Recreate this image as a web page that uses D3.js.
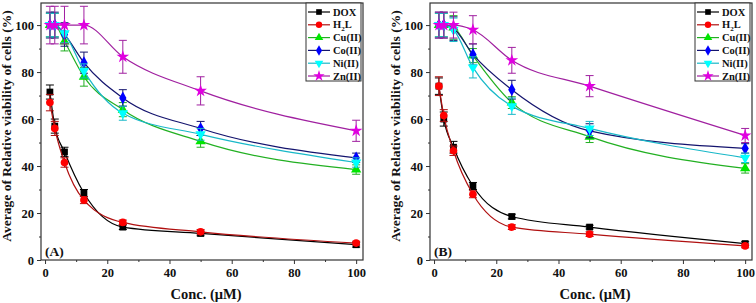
<!DOCTYPE html>
<html>
<head>
<meta charset="utf-8">
<script src="https://cdn.jsdelivr.net/npm/d3@7"></script>
<style>
  body { margin: 0; background: #fff; }
  svg text { font-family: "Liberation Serif", "Times New Roman", serif; font-weight: bold; }
</style>
</head>
<body>
<svg id="chart" width="756" height="303"></svg>
<script>
"use strict";

var conc = [1.5625, 3.125, 6.25, 12.5, 25, 50, 100];
var seriesNames = ["DOX", "H2L", "Cu(II)", "Co(II)", "Ni(II)", "Zn(II)"];
var xTicks = [0, 20, 40, 60, 80, 100];
var yTicks = [0, 20, 40, 60, 80, 100];

// panel A
var doxA = [71.5, 57, 46, 28.5, 14, 11.3, 6.5];
var doxErrA = [3, 3, 2, 1.5, 1, 1, 1];
var h2lA = [67, 56, 41.5, 25.5, 16, 12, 7.2];
var h2lErrA = [3.5, 3, 2, 1.5, 1, 1, 0.8];
var cuA = [100, 100, 93, 78, 64, 50.5, 38.5];
var cuErrA = [5, 5, 4, 4, 3, 2.5, 2];
var coA = [100, 100, 96, 84, 69, 56, 43.5];
var coErrA = [5.5, 5.5, 5, 4.5, 3.5, 3, 2];
var niA = [100, 100, 96.5, 80.5, 62.5, 53.5, 41.5];
var niErrA = [5, 5, 4, 3, 3, 2.5, 2];
var znA = [100, 100, 100, 100, 86.5, 72, 55];
var znErrA = [8, 8, 8, 8, 7, 6, 4.5];

// panel B
var doxB = [74, 60, 48, 31.5, 18.5, 14, 7];
var doxErrB = [3.5, 3, 2.5, 1.5, 1, 0.8, 0.8];
var h2lB = [74, 61.5, 46.5, 28, 14, 11, 6];
var h2lErrB = [4, 2.5, 2, 1.5, 1, 1, 0.8];
var cuB = [100, 100, 99, 87, 67, 52.5, 39];
var cuErrB = [5, 5, 5, 3, 2.5, 2.5, 2];
var coB = [100, 100, 98.5, 87.5, 72.5, 55, 47.5];
var coErrB = [5.5, 5.5, 5, 4.5, 4, 3, 2];
var niB = [100, 100, 98, 82, 65.5, 56, 43.5];
var niErrB = [5, 5, 5, 4.5, 3.5, 3, 2];
var znB = [100, 100, 100, 98, 85, 74, 53];
var znErrB = [5.5, 5.5, 5.5, 6, 5.5, 4.5, 3];

var markColors = ["#000000", "#ff0000", "#00e600", "#0000ff", "#00ffff", "#e000e0"];
var lineColors = ["#000000", "#b01010", "#22b022", "#14146e", "#18b8c8", "#a020a0"];
var symbols = [d3.symbolSquare, d3.symbolCircle, d3.symbolTriangle, d3.symbolDiamond, "down", d3.symbolStar];

var svg = d3.select("#chart");
var plotTop = 3, plotBottom = 260;
var textColor = "#111";

function symbolPath(i, size) {
    if (symbols[i] === "down") {
        return d3.symbol().type(d3.symbolTriangle).size(size)();
    }
    return d3.symbol().type(symbols[i]).size(size)();
}

function drawPanel(left, right, label, values, errors) {
    var g = svg.append("g");

    var x = d3.scaleLinear().domain([-1.3, 102.2]).range([left, right]);
    var y = d3.scaleLinear().domain([0, 109.4]).range([plotBottom, plotTop]);

    // frame
    g.append("rect")
        .attr("x", left).attr("y", plotTop)
        .attr("width", right - left).attr("height", plotBottom - plotTop)
        .attr("fill", "none").attr("stroke", "#333").attr("stroke-width", 1.2);

    var xAxis = d3.axisBottom(x).tickValues(xTicks).tickSize(4).tickSizeOuter(0).tickPadding(4);
    var xg = g.append("g").attr("transform", "translate(0," + plotBottom + ")").call(xAxis);
    xg.select(".domain").remove();
    xg.selectAll("text").style("font-size", "12.5px").attr("fill", textColor);
    xg.selectAll("line").attr("stroke", "#333");
    g.append("g").attr("transform", "translate(0," + plotBottom + ")")
        .call(d3.axisBottom(x).tickValues([10, 30, 50, 70, 90]).tickSize(2).tickFormat(""))
        .call(function (s) { s.select(".domain").remove(); s.selectAll("line").attr("stroke", "#333"); });

    var yAxis = d3.axisLeft(y).tickValues(yTicks).tickSize(4).tickSizeOuter(0).tickPadding(3);
    var yg = g.append("g").attr("transform", "translate(" + left + ",0)").call(yAxis);
    yg.select(".domain").remove();
    yg.selectAll("text").style("font-size", "12.5px").attr("fill", textColor);
    yg.selectAll("line").attr("stroke", "#333");
    g.append("g").attr("transform", "translate(" + left + ",0)")
        .call(d3.axisLeft(y).tickValues([10, 30, 50, 70, 90]).tickSize(2).tickFormat(""))
        .call(function (s) { s.select(".domain").remove(); s.selectAll("line").attr("stroke", "#333"); });

    g.append("text")
        .attr("x", (left + right) / 2 + 4).attr("y", 299)
        .attr("text-anchor", "middle").style("font-size", "14.5px").attr("fill", textColor)
        .text("Conc. (μM)");

    g.append("text")
        .attr("transform", "translate(" + (left - 30) + "," + 126 + ") rotate(-90)")
        .attr("text-anchor", "middle").style("font-size", "13.5px").attr("fill", textColor)
        .text("Average of Relative viability of cells (%)");

    g.append("text")
        .attr("x", left + 4).attr("y", 256)
        .style("font-size", "13.5px").attr("fill", textColor)
        .text(label);

    var line = d3.line()
        .x(function (d) { return x(d[0]); })
        .y(function (d) { return y(d[1]); })
        .curve(d3.curveMonotoneX);

    values.forEach(function (vals, i) {
        var pts = conc.map(function (c, j) { return [c, vals[j], errors[i][j]]; });
        var sg = g.append("g");
        sg.append("path").datum(pts)
            .attr("d", line).attr("fill", "none")
            .attr("stroke", lineColors[i]).attr("stroke-width", 1.2);

        var eb = sg.selectAll(".eb").data(pts).enter().append("g").attr("stroke", lineColors[i]).attr("stroke-width", 1);
        eb.append("line")
            .attr("x1", function (d) { return x(d[0]); }).attr("x2", function (d) { return x(d[0]); })
            .attr("y1", function (d) { return y(d[1] - d[2]); }).attr("y2", function (d) { return y(d[1] + d[2]); });
        eb.append("line")
            .attr("x1", function (d) { return x(d[0]) - 4; }).attr("x2", function (d) { return x(d[0]) + 4; })
            .attr("y1", function (d) { return y(d[1] + d[2]); }).attr("y2", function (d) { return y(d[1] + d[2]); });
        eb.append("line")
            .attr("x1", function (d) { return x(d[0]) - 4; }).attr("x2", function (d) { return x(d[0]) + 4; })
            .attr("y1", function (d) { return y(d[1] - d[2]); }).attr("y2", function (d) { return y(d[1] - d[2]); });

        sg.selectAll(".pt").data(pts).enter().append("path")
            .attr("d", symbolPath(i, i === 5 ? 50 : 46))
            .attr("transform", function (d) {
                return "translate(" + x(d[0]) + "," + y(d[1]) + ")" + (symbols[i] === "down" ? " rotate(180)" : "");
            })
            .attr("fill", markColors[i]);
    });

    // legend
    var lx = right - 57, lw = 55;
    var lg = g.append("g");
    lg.append("rect")
        .attr("x", lx).attr("y", plotTop).attr("width", lw).attr("height", 78)
        .attr("fill", "#fff").attr("stroke", "#333").attr("stroke-width", 1);
    seriesNames.forEach(function (name, i) {
        var ly = plotTop + 9 + i * 12.8;
        lg.append("line")
            .attr("x1", lx + 2).attr("x2", lx + 24).attr("y1", ly).attr("y2", ly)
            .attr("stroke", lineColors[i]).attr("stroke-width", 1.2);
        lg.append("path")
            .attr("d", symbolPath(i, i === 5 ? 40 : 32))
            .attr("transform", "translate(" + (lx + 13) + "," + ly + ")" + (symbols[i] === "down" ? " rotate(180)" : ""))
            .attr("fill", markColors[i]);
        var t = lg.append("text").attr("x", lx + 27).attr("y", ly + 3.5)
            .style("font-size", "10.5px").attr("fill", textColor);
        if (name === "H2L") {
            t.append("tspan").text("H");
            t.append("tspan").attr("dy", 2.5).style("font-size", "7px").text("2");
            t.append("tspan").attr("dy", -2.5).text("L");
        } else {
            t.text(name);
        }
    });
}

drawPanel(41, 363, "(A)", [doxA, h2lA, cuA, coA, niA, znA], [doxErrA, h2lErrA, cuErrA, coErrA, niErrA, znErrA]);
drawPanel(430, 752, "(B)", [doxB, h2lB, cuB, coB, niB, znB], [doxErrB, h2lErrB, cuErrB, coErrB, niErrB, znErrB]);
</script>
</body>
</html>
